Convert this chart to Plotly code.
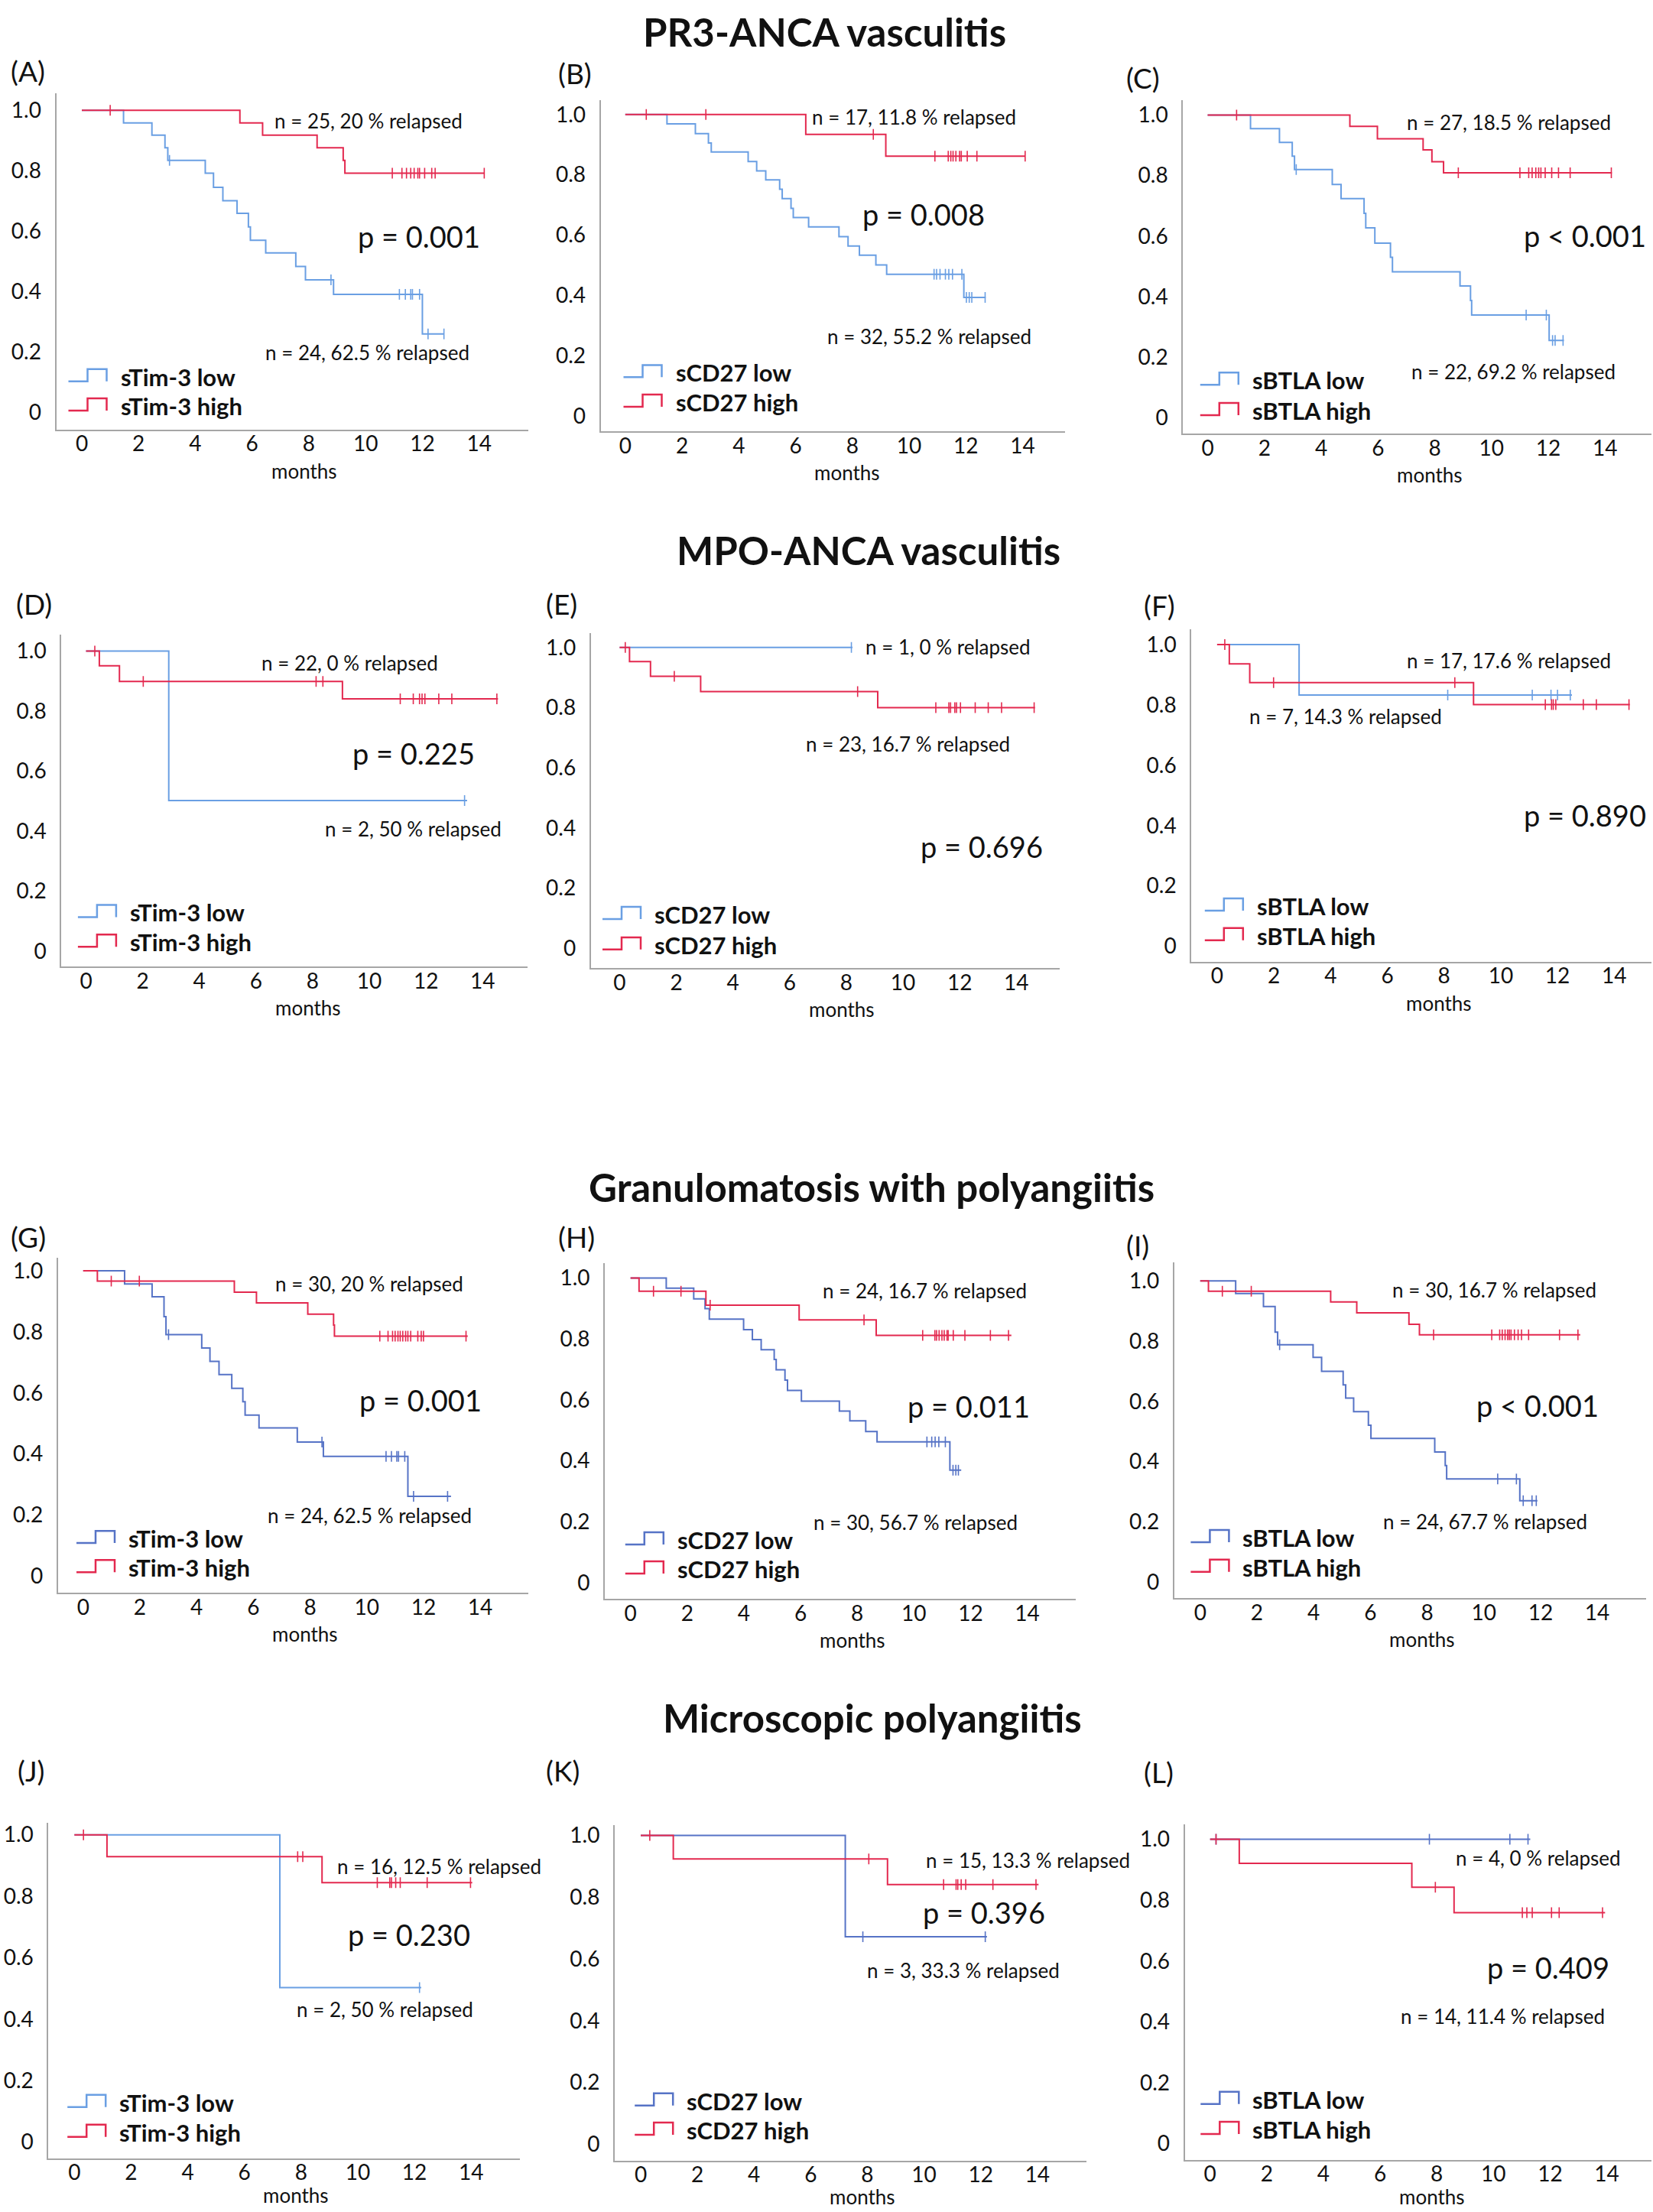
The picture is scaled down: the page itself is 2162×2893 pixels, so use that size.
import plotly.graph_objects as go

W, H = 2162, 2893
FONT = "Lato"
RED = "#e3294f"
BLUE_L = "#6a9fe3"
BLUE_D = "#5673c6"

# ---------------- data (months, survival) ----------------
A_high_t = [5.57, 6.37, 8.29, 9.21, 9.27]
A_high_s = [0.958, 0.918, 0.876, 0.834, 0.792]
A_high_c = [1.0, 10.94, 11.28, 11.44, 11.59, 11.71, 11.84, 11.90, 12.08, 12.33, 12.45, 14.18]
A_high_end = 14.18
A_low_t = [1.47, 2.47, 2.93, 3.03, 4.35, 4.64, 4.97, 5.47, 5.87, 5.94, 6.48, 7.54, 7.88, 8.87, 12.0]
A_low_s = [0.958, 0.918, 0.876, 0.834, 0.792, 0.745, 0.701, 0.659, 0.614, 0.570, 0.528, 0.483, 0.439, 0.391, 0.260]
A_low_c = [3.09, 8.78, 11.19, 11.40, 11.59, 11.65, 11.90, 12.2, 12.76]
A_low_end = 12.76

B_high_t = [6.36, 9.18]
B_high_s = [0.934, 0.862]
B_high_c = [0.74, 2.84, 8.74, 10.91, 11.38, 11.47, 11.55, 11.65, 11.78, 11.84, 12.05, 12.39, 14.09]
B_high_end = 14.09
B_low_t = [1.47, 2.47, 2.93, 3.03, 4.33, 4.63, 4.95, 5.44, 5.53, 5.84, 5.92, 6.46, 7.53, 7.85, 8.25, 8.83, 9.21, 11.93]
B_low_s = [0.969, 0.937, 0.906, 0.876, 0.844, 0.813, 0.783, 0.752, 0.721, 0.689, 0.658, 0.627, 0.595, 0.564, 0.533, 0.501, 0.470, 0.393]
B_low_c = [10.88, 10.97, 11.09, 11.28, 11.40, 11.53, 11.86, 12.02, 12.12, 12.21, 12.68]
B_low_end = 12.70

C_high_t = [5.01, 5.98, 7.59, 7.90, 8.31]
C_high_s = [0.963, 0.922, 0.885, 0.846, 0.809]
C_high_c = [1.02, 8.83, 11.0, 11.31, 11.43, 11.56, 11.66, 11.74, 11.89, 12.12, 12.36, 12.77, 14.22]
C_high_end = 14.24
C_low_t = [1.51, 2.53, 2.98, 3.06, 4.39, 4.70, 5.51, 5.57, 5.89, 6.44, 6.51, 8.89, 9.26, 9.30, 12.03]
C_low_s = [0.955, 0.910, 0.864, 0.820, 0.771, 0.724, 0.675, 0.627, 0.577, 0.530, 0.482, 0.435, 0.387, 0.339, 0.255]
C_low_c = [3.12, 11.22, 11.93, 12.15, 12.24, 12.52]
C_low_end = 12.55

D_high_t = [0.47, 1.18, 9.05]
D_high_s = [0.951, 0.899, 0.841]
D_high_c = [0.31, 2.02, 8.12, 8.36, 11.09, 11.55, 11.77, 11.86, 11.96, 12.45, 12.91, 14.50]
D_high_end = 14.54
D_low_t = [2.92]
D_low_s = [0.502]
D_low_c = [13.36]
D_low_end = 13.45

E_high_t = [0.35, 1.09, 2.86, 9.11]
E_high_s = [0.953, 0.904, 0.853, 0.800]
E_high_c = [0.20, 1.93, 8.40, 11.16, 11.62, 11.68, 11.83, 11.89, 12.03, 12.55, 13.01, 13.48, 14.63]
E_high_end = 14.66
E_low_t = []
E_low_s = []
E_low_c = [8.18]
E_low_end = 8.22

F_high_t = [0.43, 1.15, 9.04]
F_high_s = [0.936, 0.874, 0.801]
F_high_c = [0.27, 1.99, 8.38, 11.57, 11.79, 11.85, 11.94, 12.91, 13.37, 14.52]
F_high_end = 14.55
F_low_t = [2.89]
F_low_s = [0.833]
F_low_c = [8.13, 11.11, 11.77, 12.0, 12.45]
F_low_end = 12.51

G_high_t = [0.50, 5.33, 6.11, 7.92, 8.83, 8.86]
G_high_s = [0.966, 0.930, 0.895, 0.858, 0.822, 0.786]
G_high_c = [0.99, 1.98, 10.46, 10.75, 10.91, 11.0, 11.10, 11.18, 11.27, 11.37, 11.45, 11.55, 11.80, 11.92, 12.0, 13.50]
G_high_end = 13.56
G_low_t = [1.46, 2.43, 2.85, 2.92, 4.18, 4.47, 4.79, 5.24, 5.63, 5.71, 6.20, 7.55, 8.47, 11.45]
G_low_s = [0.957, 0.915, 0.850, 0.791, 0.747, 0.703, 0.660, 0.615, 0.571, 0.527, 0.485, 0.439, 0.392, 0.261]
G_low_c = [3.01, 8.42, 10.68, 10.87, 11.06, 11.12, 11.34, 11.65, 12.85]
G_low_end = 12.97

H_high_t = [0.30, 2.66, 5.95, 8.67]
H_high_s = [0.957, 0.911, 0.863, 0.812]
H_high_c = [0.81, 1.78, 2.81, 8.24, 10.31, 10.74, 10.80, 10.89, 10.99, 11.07, 11.17, 11.21, 11.39, 11.80, 12.70, 13.34]
H_high_end = 13.44
H_low_t = [1.26, 2.23, 2.63, 2.78, 3.99, 4.30, 4.61, 5.07, 5.14, 5.45, 5.54, 6.03, 7.37, 7.74, 8.30, 8.70, 11.27]
H_low_s = [0.967, 0.932, 0.900, 0.865, 0.831, 0.798, 0.765, 0.733, 0.699, 0.665, 0.631, 0.596, 0.563, 0.531, 0.496, 0.462, 0.369]
H_low_c = [10.46, 10.63, 10.75, 10.88, 11.11, 11.38, 11.48, 11.57]
H_low_end = 11.67

I_high_t = [0.29, 4.60, 5.52, 7.36, 7.73]
I_high_s = [0.966, 0.930, 0.894, 0.856, 0.821]
I_high_c = [0.78, 1.80, 8.23, 10.28, 10.56, 10.65, 10.75, 10.84, 10.90, 10.96, 11.08, 11.21, 11.33, 11.58, 12.67, 13.32]
I_high_end = 13.40
I_low_t = [1.25, 2.23, 2.64, 2.73, 3.98, 4.28, 5.04, 5.13, 5.41, 5.93, 6.02, 8.27, 8.64, 8.69, 11.27]
I_low_s = [0.958, 0.915, 0.830, 0.788, 0.746, 0.700, 0.655, 0.611, 0.566, 0.521, 0.477, 0.432, 0.387, 0.342, 0.270]
I_low_c = [2.80, 10.49, 11.15, 11.39, 11.70, 11.85]
I_low_end = 11.89

J_high_t = [1.15, 8.74]
J_high_s = [0.929, 0.844]
J_high_c = [0.32, 7.88, 8.06, 10.69, 11.13, 11.19, 11.34, 11.50, 12.45, 13.98]
J_high_end = 14.04
J_low_t = [7.25]
J_low_s = [0.503]
J_low_c = [12.18]
J_low_end = 12.24

K_high_t = [1.15, 8.71]
K_high_s = [0.924, 0.841]
K_high_c = [0.32, 8.05, 10.69, 11.13, 11.19, 11.31, 11.47, 12.43, 13.95]
K_high_end = 14.04
K_low_t = [7.22]
K_low_s = [0.672]
K_low_c = [7.84, 12.16]
K_low_end = 12.22

L_high_t = [1.03, 7.12, 8.61]
L_high_s = [0.921, 0.842, 0.759]
L_high_c = [0.21, 7.95, 11.02, 11.18, 11.37, 12.05, 12.32, 13.85]
L_high_end = 13.94
L_low_t = []
L_low_s = []
L_low_c = [0.21, 7.74, 10.58, 11.22]
L_low_end = 11.30

panel_ids = ["A", "B", "C", "D", "E", "F", "G", "H", "I", "J", "K", "L"]
markers = ["sTim-3", "sCD27", "sBTLA"] * 4
titles = ["PR3-ANCA vasculitis", "MPO-ANCA vasculitis",
          "Granulomatosis with polyangiitis", "Microscopic polyangiitis"]
n_high_text = ["n = 25, 20 % relapsed", "n = 17, 11.8 % relapsed", "n = 27, 18.5 % relapsed",
               "n = 22, 0 % relapsed", "n = 1, 0 % relapsed", "n = 17, 17.6 % relapsed",
               "n = 30, 20 % relapsed", "n = 24, 16.7 % relapsed", "n = 30, 16.7 % relapsed",
               "n = 16, 12.5 % relapsed", "n = 15, 13.3 % relapsed", "n = 4, 0 % relapsed"]
n_low_text = ["n = 24, 62.5 % relapsed", "n = 32, 55.2 % relapsed", "n = 22, 69.2 % relapsed",
              "n = 2, 50 % relapsed", "n = 23, 16.7 % relapsed", "n = 7, 14.3 % relapsed",
              "n = 24, 62.5 % relapsed", "n = 30, 56.7 % relapsed", "n = 24, 67.7 % relapsed",
              "n = 2, 50 % relapsed", "n = 3, 33.3 % relapsed", "n = 14, 11.4 % relapsed"]
p_text = ["p = 0.001", "p = 0.008", "p < 0.001", "p = 0.225", "p = 0.696", "p = 0.890",
          "p = 0.001", "p = 0.011", "p < 0.001", "p = 0.230", "p = 0.396", "p = 0.409"]
x_ticks = [0, 2, 4, 6, 8, 10, 12, 14]
y_ticks = [0, 0.2, 0.4, 0.6, 0.8, 1.0]
y_tick_text = ["0", "0.2", "0.4", "0.6", "0.8", "1.0"]

series = {
    "A": ((A_low_t, A_low_s, A_low_c, A_low_end), (A_high_t, A_high_s, A_high_c, A_high_end)),
    "B": ((B_low_t, B_low_s, B_low_c, B_low_end), (B_high_t, B_high_s, B_high_c, B_high_end)),
    "C": ((C_low_t, C_low_s, C_low_c, C_low_end), (C_high_t, C_high_s, C_high_c, C_high_end)),
    "D": ((D_low_t, D_low_s, D_low_c, D_low_end), (D_high_t, D_high_s, D_high_c, D_high_end)),
    "E": ((E_low_t, E_low_s, E_low_c, E_low_end), (E_high_t, E_high_s, E_high_c, E_high_end)),
    "F": ((F_low_t, F_low_s, F_low_c, F_low_end), (F_high_t, F_high_s, F_high_c, F_high_end)),
    "G": ((G_low_t, G_low_s, G_low_c, G_low_end), (G_high_t, G_high_s, G_high_c, G_high_end)),
    "H": ((H_low_t, H_low_s, H_low_c, H_low_end), (H_high_t, H_high_s, H_high_c, H_high_end)),
    "I": ((I_low_t, I_low_s, I_low_c, I_low_end), (I_high_t, I_high_s, I_high_c, I_high_end)),
    "J": ((J_low_t, J_low_s, J_low_c, J_low_end), (J_high_t, J_high_s, J_high_c, J_high_end)),
    "K": ((K_low_t, K_low_s, K_low_c, K_low_end), (K_high_t, K_high_s, K_high_c, K_high_end)),
    "L": ((L_low_t, L_low_s, L_low_c, L_low_end), (L_high_t, L_high_s, L_high_c, L_high_end)),
}

# ---------------- layout geometry (pixels) ----------------
# axis left, axis right, axis top, axis bottom, px of month 0, px per month, px of 1.0, px of 0
GEOM = {
    "A": (73.5, 691, 117.3, 557.6, 107, 37.12, 139.5, 535.4),
    "B": (785.7, 1392.6, 125.9, 560.2, 817.8, 37.12, 145.1, 539.8),
    "C": (1547.3, 2160, 125.9, 563.1, 1579.5, 37.13, 145.8, 542.1),
    "D": (80.3, 689.6, 826.6, 1261.3, 112.5, 37.06, 848, 1241),
    "E": (772.8, 1385.7, 824.7, 1263.1, 810.4, 37.06, 843.2, 1237.2),
    "F": (1558.3, 2160, 819.2, 1255, 1591.9, 37.1, 839.5, 1234.7),
    "G": (75.8, 691, 1642.9, 2082, 108.8, 37.09, 1659.9, 2059.8),
    "H": (791.2, 1407.3, 1650.3, 2089.8, 824.7, 37.06, 1669.5, 2068.3),
    "I": (1535.8, 2152.7, 1648.4, 2088.7, 1569.8, 37.09, 1673.2, 2067.6),
    "J": (63.4, 680.4, 2383.1, 2822.7, 97.3, 37.06, 2398.8, 2801.5),
    "K": (804, 1421.1, 2386.2, 2825.4, 838, 37.06, 2399.6, 2804.2),
    "L": (1549.6, 2160, 2385.4, 2824.6, 1582.7, 37.06, 2404.6, 2803.5),
}
# text positions in data coords: (x, y) for n-high, n-low, p
TEXTPOS = {
    "A": ((6.74, 0.964), (6.42, 0.199), (9.67, 0.582)),
    "B": ((6.52, 0.993), (7.07, 0.264), (8.31, 0.669)),
    "C": ((6.97, 0.976), (7.13, 0.152), (11.09, 0.602)),
    "D": ((6.13, 0.960), (8.39, 0.407), (9.35, 0.661)),
    "E": ((8.62, 1.002), (6.52, 0.679), (10.57, 0.338)),
    "F": ((6.62, 0.946), (1.09, 0.763), (10.76, 0.435)),
    "G": ((6.72, 0.957), (6.46, 0.199), (9.69, 0.578)),
    "H": ((6.74, 0.960), (6.41, 0.198), (9.71, 0.580)),
    "I": ((6.71, 0.971), (6.40, 0.200), (9.68, 0.587)),
    "J": ((9.21, 0.898), (7.78, 0.432), (9.61, 0.676)),
    "K": ((10.01, 0.919), (7.94, 0.563), (9.89, 0.752)),
    "L": ((8.61, 0.938), (6.67, 0.419), (9.71, 0.579)),
}
# legend: icon left px, blue icon bottom px, red icon bottom px
LEG = {
    "A": (89.5, 494.7, 532.8), "B": (815.5, 489.2, 528), "C": (1569.8, 499.1, 539),
    "D": (101.9, 1196.5, 1235.4), "E": (788, 1199.1, 1239), "F": (1575.8, 1188, 1226.9),
    "G": (100, 2016.6, 2054.7), "H": (817.8, 2018.4, 2056.5), "I": (1557.4, 2015.4, 2054.3),
    "J": (88.2, 2755.4, 2794.6), "K": (830.2, 2753.5, 2791.9), "L": (1570.3, 2751.5, 2790.8),
}
LABELPOS = {
    "A": (12, 88), "B": (728, 91), "C": (1471, 97), "D": (19, 786), "E": (712, 786),
    "F": (1494, 788), "G": (12, 1615), "H": (728, 1615), "I": (1471, 1626),
    "J": (21, 2315), "K": (712, 2315), "L": (1494, 2317),
}
TITLEPOS = [(1078, 37), (1136, 716), (1140, 1550), (1141, 2245)]
DARK_BLUE = {"G", "H", "I", "K", "L"}


def px(x):
    return x / W


def py(y):
    return 1 - y / H


def surv_at(t, s, x):
    cur = 1.0
    for ti, si in zip(t, s):
        if ti <= x:
            cur = si
    return cur


fig = go.Figure()
annotations = []
shapes = []

for i, pid in enumerate(panel_ids):
    k = i + 1
    xa = "x" if k == 1 else f"x{k}"
    ya = "y" if k == 1 else f"y{k}"
    AL, AR, AT, AB, X0, XS, Y1, Y0 = GEOM[pid]
    ysc = Y0 - Y1
    xr = [(AL - X0) / XS, (AR - X0) / XS]
    yr = [(Y0 - AB) / ysc, (Y0 - AT) / ysc]
    blue = BLUE_D if pid in DARK_BLUE else BLUE_L
    low, high = series[pid]
    for (t, s, c, end), col in ((low, blue), (high, RED)):
        last = s[-1] if s else 1.0
        fig.add_trace(go.Scatter(
            x=[0.0] + list(t) + [end], y=[1.0] + list(s) + [last],
            mode="lines", line=dict(color=col, width=2, shape="hv"),
            xaxis=xa, yaxis=ya, showlegend=False, hoverinfo="skip"))
        fig.add_trace(go.Scatter(
            x=c, y=[surv_at(t, s, ci) for ci in c], mode="markers",
            marker=dict(symbol="line-ns", size=10, line=dict(color=col, width=1.6)),
            xaxis=xa, yaxis=ya, showlegend=False, hoverinfo="skip"))

    axis_common = dict(showgrid=False, zeroline=False, showline=True, linecolor="#a6a6a6",
                       linewidth=2, ticks="", tickfont=dict(family=FONT, size=28, color="#111"))
    fig.update_layout(**{
        ("xaxis" if k == 1 else f"xaxis{k}"): dict(
            axis_common, domain=[px(AL), px(AR)], range=xr, anchor=ya,
            tickvals=x_ticks, ticktext=[str(v) for v in x_ticks], ticklabelstandoff=-7),
        ("yaxis" if k == 1 else f"yaxis{k}"): dict(
            axis_common, domain=[py(AB), py(AT)], range=yr, anchor=xa,
            tickvals=y_ticks, ticktext=y_tick_text, ticklabelstandoff=12),
    })

    (nhx, nhy), (nlx, nly), (ppx, ppy) = TEXTPOS[pid]
    for (tx, ty, txt, sz) in ((nhx, nhy, n_high_text[i], 26), (nlx, nly, n_low_text[i], 26),
                              (ppx, ppy, p_text[i], 38)):
        annotations.append(dict(x=tx, y=ty, xref=xa, yref=ya, text=txt, showarrow=False,
                                xanchor="left", yanchor="middle",
                                font=dict(family=FONT, size=sz, color="#111")))
    # months title (kept inside the canvas for the bottom row)
    m_off = 54 if AB < 2500 else 48
    annotations.append(dict(x=7.83, y=py(AB + m_off), xref=xa, yref="paper", text="months",
                            showarrow=False, xanchor="center", yanchor="middle",
                            font=dict(family=FONT, size=26, color="#111")))
    # panel label
    lx, ly = LABELPOS[pid]
    annotations.append(dict(x=px(lx), y=py(ly), xref="paper", yref="paper",
                            text=f"({pid})", showarrow=False, xanchor="left", yanchor="middle",
                            font=dict(family=FONT, size=37, color="#111")))
    # legend icons + labels
    gl, bb, rb = LEG[pid]
    for bottom, col, lab in ((bb, blue, markers[i] + " low"), (rb, RED, markers[i] + " high")):
        path = (f"M {px(gl)},{py(bottom)} L {px(gl + 25)},{py(bottom)} "
                f"L {px(gl + 25)},{py(bottom - 16)} L {px(gl + 50)},{py(bottom - 16)} "
                f"L {px(gl + 50)},{py(bottom)}")
        shapes.append(dict(type="path", path=path, xref="paper", yref="paper",
                           line=dict(color=col, width=2.5)))
        annotations.append(dict(x=px(gl + 66), y=py(bottom - 6), xref="paper", yref="paper",
                                text=f"<b>{lab}</b>", showarrow=False, xanchor="left",
                                yanchor="middle",
                                font=dict(family=FONT, size=31, color="#111")))

for (tx, ty), ttl in zip(TITLEPOS, titles):
    annotations.append(dict(x=px(tx), y=py(ty), xref="paper", yref="paper",
                            text=f"<b>{ttl}</b>", showarrow=False, xanchor="center",
                            yanchor="middle", font=dict(family=FONT, size=51, color="#111")))

fig.update_layout(width=W, height=H, margin=dict(l=0, r=0, t=0, b=0),
                  paper_bgcolor="white", plot_bgcolor="white",
                  annotations=annotations, shapes=shapes, showlegend=False)

fig.write_html("out.html")
